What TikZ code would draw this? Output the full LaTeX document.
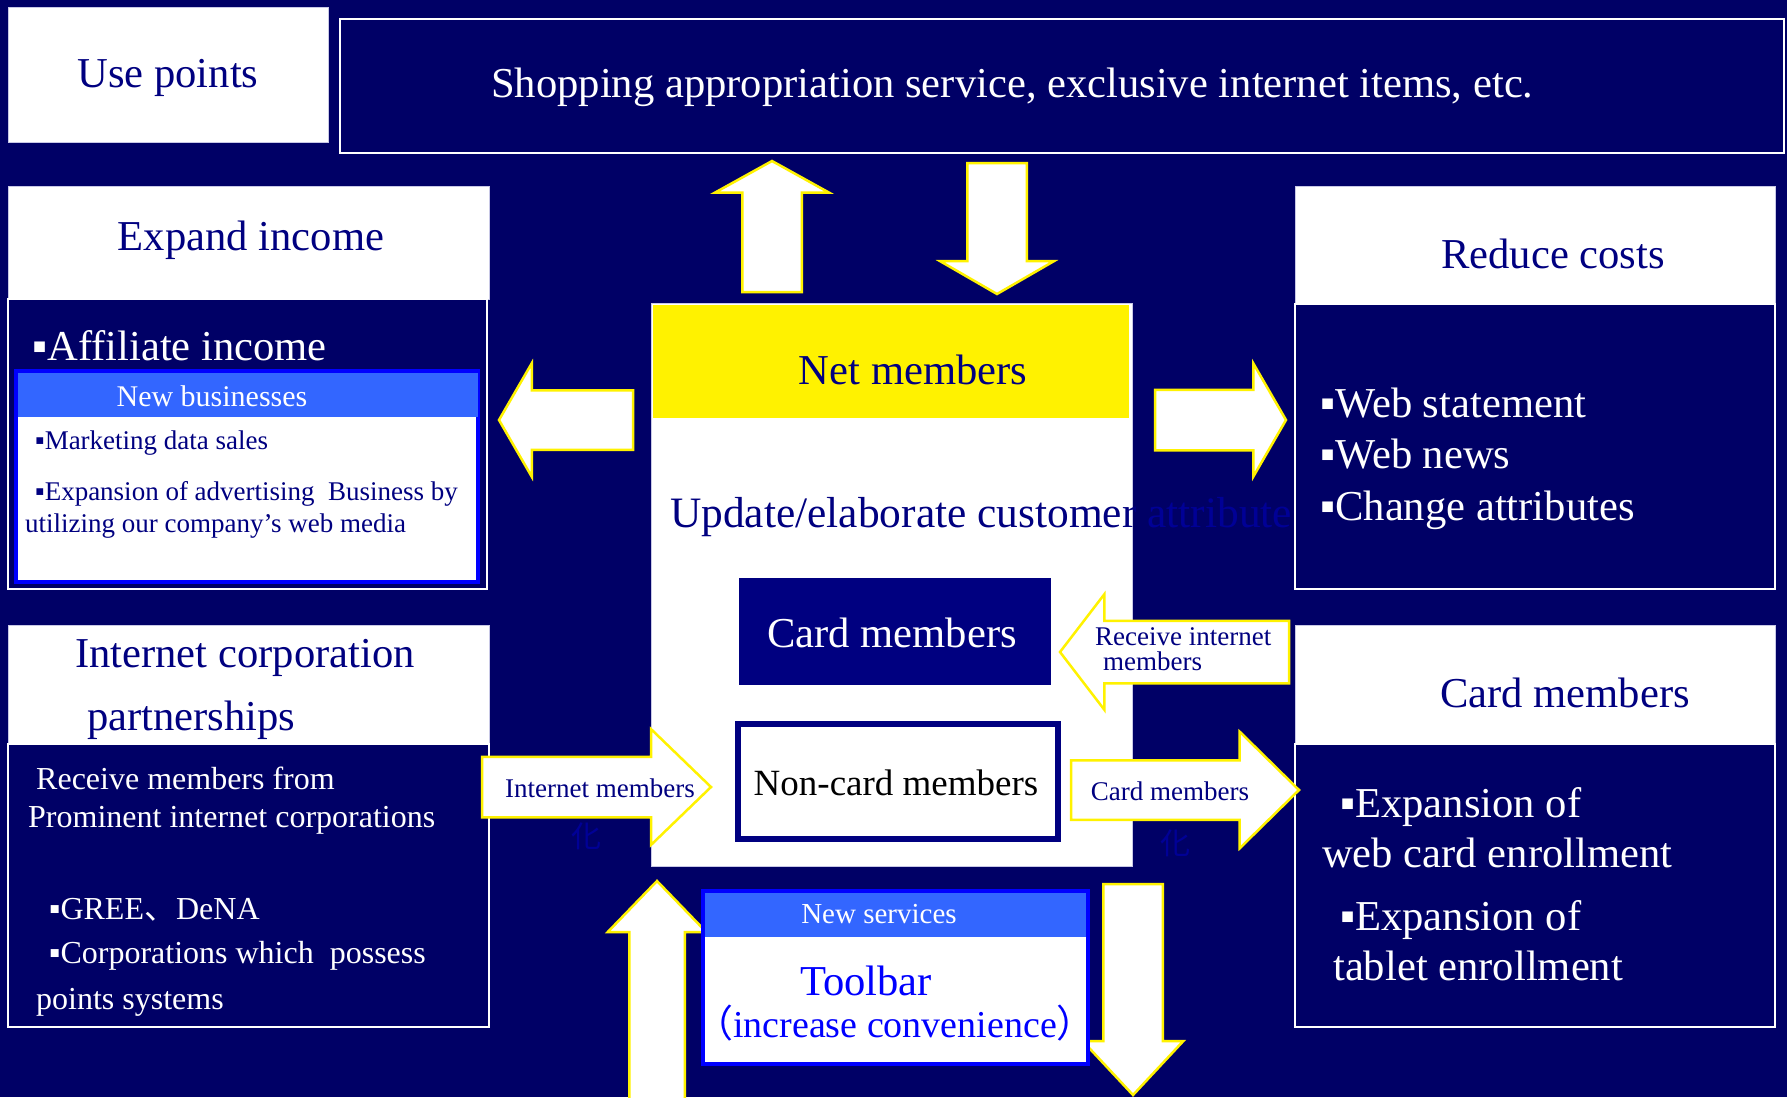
\documentclass[tikz,border=0pt]{standalone}
\usepackage{fontspec}
\setmainfont{Liberation Serif}
\newfontfamily\cjk{Noto Sans CJK JP}
\usetikzlibrary{positioning,shapes.arrows}

\definecolor{bgnavy}{RGB}{0,0,102}
\definecolor{txtnavy}{RGB}{0,0,128}
\definecolor{faintblue}{RGB}{0,0,150}
\definecolor{headblue}{RGB}{51,102,255}
\definecolor{frameblue}{RGB}{0,0,255}
\definecolor{lavender}{RGB}{200,200,230}

\newcommand{\bigtxt}{\fontsize{42.6}{50}\selectfont}
\newcommand{\midtxt}{\fontsize{32}{38}\selectfont}
\newcommand{\smalltxt}{\fontsize{27}{32}\selectfont}

\tikzset{
    % white title boxes
    headbox/.style={rectangle, anchor=north west, inner sep=0pt, outer sep=0pt,
           fill=white, draw=lavender, line width=1pt},
    % dark boxes with a white frame
    darkbox/.style={rectangle, anchor=north west, inner sep=0pt, outer sep=0pt,
           fill=bgnavy, draw=white, line width=2pt},
    % white boxes with a blue frame and a light blue head
    newbox/.style={rectangle, anchor=north west, inner sep=0pt, outer sep=0pt,
           fill=white, draw=frameblue, line width=4pt},
    newhead/.style={rectangle, anchor=north west, inner sep=0pt, outer sep=0pt,
           fill=headblue},
    % fat yellow-rimmed arrows: inner sep = half the shaft
    blockarrow/.style={single arrow, anchor=tail, outer sep=0pt,
           fill=white, draw=yellow, line width=2.5pt,
           single arrow head indent=0pt},
    % texts
    title/.style={anchor=base, inner sep=0pt, font=\bigtxt, text=txtnavy},
    bigwhite/.style={anchor=base west, inner sep=0pt, font=\bigtxt, text=white},
    midwhite/.style={anchor=base west, inner sep=0pt, font=\midtxt, text=white},
    smallnavy/.style={anchor=base west, inner sep=0pt, font=\smalltxt, text=txtnavy},
    faint/.style={inner sep=0pt, font=\fontsize{30}{30}\cjk, text=faintblue}
}

\begin{document}
\begin{tikzpicture}[x=1pt, y=-1pt]
\useasboundingbox (0,0) rectangle (1787,1097);
\fill[bgnavy] (0,0) rectangle (1787,1097);

% top row
\node[headbox, minimum width=320pt, minimum height=134pt] (usebox) at (8,8) {};
\node[title] (usetxt) at (168,88) {Use points};
\node[darkbox, minimum width=1444pt, minimum height=134pt] (shopbox) at (340,19) {};
\node[bigwhite] (shoptxt) at (491,98) {Shopping appropriation service, exclusive internet items, etc.};

% members in the middle
\node[headbox, minimum width=481pt, minimum height=563pt] (hub) at (651,303) {};
\node[rectangle, anchor=north west, inner sep=0pt, fill=yellow,
      minimum width=476pt, minimum height=113pt] (netbox) at (653,305) {};
\node[title] (nettxt) at (913,384) {Net members};
\node[anchor=base west, inner sep=0pt, font=\fontsize{43.4}{50}\selectfont, text=txtnavy] (updtxt) at (670,527)
      {Update/elaborate customer \textcolor{faintblue}{attributes}};
\node[rectangle, anchor=north west, inner sep=0pt, fill=txtnavy,
      minimum width=312pt, minimum height=107pt] (cardbox) at (739,578) {};
\node[title, text=white] (cardtxt) at (892,647) {Card members};
\node[rectangle, anchor=north west, inner sep=0pt, fill=white, draw=txtnavy, line width=6pt,
      minimum width=320pt, minimum height=115pt] (noncard) at (735,721) {};
\node[title, font=\fontsize{37}{44}\selectfont, text=black] (noncardtxt) at (896,795) {Non-card members};

% left column
\node[headbox, minimum width=481pt, minimum height=113pt] (incomehead) at (8,186) {};
\node[title] (incometxt) at (251,250) {Expand income};
\node[darkbox, minimum width=479pt, minimum height=290pt] (incomebody) at (incomehead.south west) {};
\node[bigwhite] (affil) at (32,360) {▪Affiliate income};
\node[newbox, minimum width=462pt, minimum height=211pt] (nbbox) at (16,371) {};
\node[newhead, minimum width=460pt, minimum height=44pt] (nbhead) at (18,373) {};
\node[title, font=\fontsize{30}{36}\selectfont, text=white] (nbtxt) at (212,406) {New businesses};
\node[smallnavy] (nb1) at (35,449) {▪Marketing data sales};
\node[smallnavy] (nb2) at (35,500) {▪Expansion of advertising~ Business by};
\node[smallnavy] (nb3) at (25,532) {utilizing our company’s web media};

\node[headbox, minimum width=481pt, minimum height=119pt] (corphead) at (8,625) {};
\node[title] (corptxt1) at (245,667) {Internet corporation};
\node[title, anchor=base west] (corptxt2) at (87,730) {partnerships};
\node[darkbox, minimum width=481pt, minimum height=283pt] (corpbody) at (corphead.south west) {};
\node[midwhite] (corp1) at (36,789) {Receive members from};
\node[midwhite] (corp2) at (28,827) {Prominent internet corporations};
\node[midwhite] (corp3) at (49,919) {▪GREE{\cjk 、}DeNA};
\node[midwhite] (corp4) at (49,963) {▪Corporations which~ possess};
\node[midwhite] (corp5) at (36,1009) {points systems};

% right column
\node[headbox, minimum width=480pt, minimum height=118pt] (costhead) at (1295,186) {};
\node[title] (costtxt) at (1553,268) {Reduce costs};
\node[darkbox, minimum width=480pt, minimum height=285pt] (costbody) at (costhead.south west) {};
\node[bigwhite] (cost1) at (1320,417) {▪Web statement};
\node[bigwhite] (cost2) at (1320,468) {▪Web news};
\node[bigwhite] (cost3) at (1320,520) {▪Change attributes};

\node[headbox, minimum width=480pt, minimum height=119pt] (memhead) at (1295,625) {};
\node[title] (memtxt) at (1565,707) {Card members};
\node[darkbox, minimum width=480pt, minimum height=283pt] (membody) at (memhead.south west) {};
\node[bigwhite] (mem1) at (1340,817) {▪Expansion of};
\node[bigwhite] (mem2) at (1322,867) {web card enrollment};
\node[bigwhite] (mem3) at (1340,930) {▪Expansion of};
\node[bigwhite] (mem4) at (1333,980) {tablet enrollment};

\node[faint] (hua1) at (586,836) {化};
\node[faint] (hua2) at (1175,843) {化};

% block arrows
\node[blockarrow, shape border rotate=180, minimum height=134pt, inner sep=28.5pt,
      single arrow head extend=27pt, single arrow tip angle=120] (toincome) at (633,420) {};
\node[blockarrow, minimum height=131pt, inner sep=29pt,
      single arrow head extend=26.5pt, single arrow tip angle=120] (tocost) at (1155,420) {};
\node[blockarrow, shape border rotate=90, minimum height=131pt, inner sep=28.5pt,
      single arrow head extend=27.5pt, single arrow tip angle=122] (topoints) at (772,292) {};
\node[blockarrow, shape border rotate=270, minimum height=131pt, inner sep=28.5pt,
      single arrow head extend=27pt, single arrow tip angle=120] (fromshop) at (997,163) {};
\node[blockarrow, shape border rotate=90, minimum height=229pt, inner sep=26.5pt,
      single arrow head extend=21.5pt, single arrow tip angle=88] (fromtool) at (657,1110) {};
\node[blockarrow, shape border rotate=270, minimum height=211pt, inner sep=28.5pt,
      single arrow head extend=20.5pt, single arrow tip angle=86] (totool) at (1133,884) {};
\node[blockarrow, minimum height=229pt, inner sep=29pt,
      single arrow head extend=27.5pt, single arrow tip angle=88] (inetarrow) at (482,787) {};
\node[smallnavy, anchor=base] (inettxt) at (600,797) {Internet members};
\node[blockarrow, minimum height=228pt, inner sep=28.5pt,
      single arrow head extend=28.5pt, single arrow tip angle=89] (cardarrow) at (1071,790) {};
\node[smallnavy, anchor=base] (cardarrtxt) at (1170,800) {Card members};
\node[blockarrow, shape border rotate=180, minimum height=229pt, inner sep=30pt,
      single arrow head extend=26.5pt, single arrow tip angle=105] (recvarrow) at (1289,652) {};
\node[smallnavy] (recv1) at (1095,645) {Receive internet};
\node[smallnavy] (recv2) at (1103,670) {members};

% new services
\node[newbox, minimum width=385pt, minimum height=173pt] (nsbox) at (703,891) {};
\node[newhead, minimum width=381pt, minimum height=44pt] (nshead) at (705,893) {};
\node[title, font=\fontsize{29}{34}\selectfont, text=white] (nstxt) at (879,923) {New services};
\node[title, text=frameblue] (tooltxt) at (866,995) {Toolbar};
\node[title, font=\fontsize{38}{44}\selectfont, text=frameblue] (convtxt) at (895,1037)
      {{\cjk （}increase convenience{\cjk ）}};
\end{tikzpicture}
\end{document}
